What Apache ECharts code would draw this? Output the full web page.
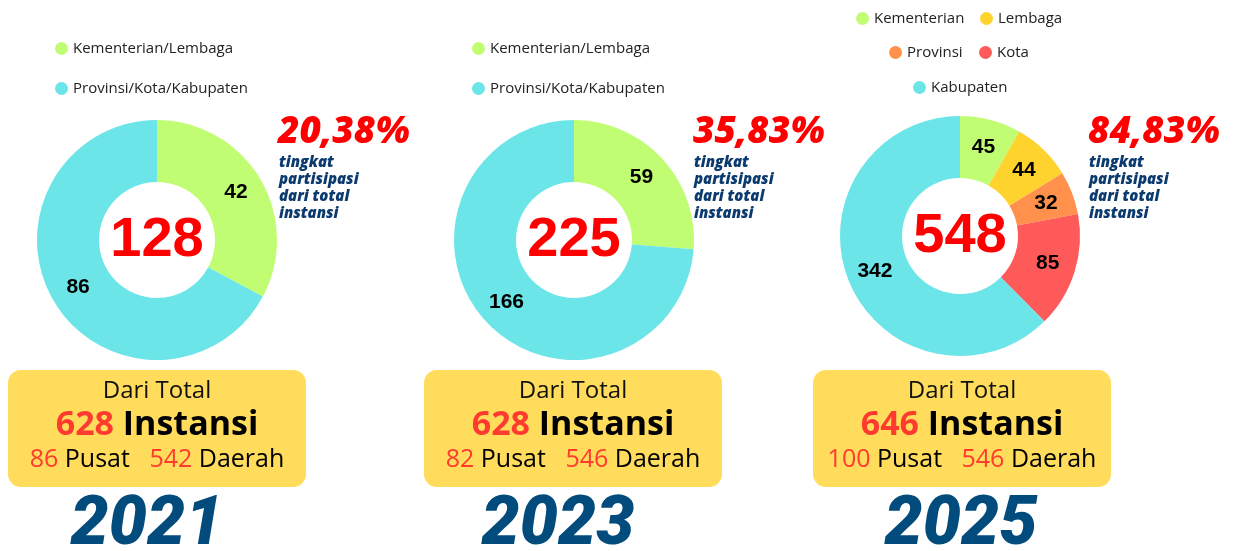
<!DOCTYPE html>
<html>
<head>
<meta charset="utf-8">
<script src="https://cdn.jsdelivr.net/npm/echarts@6/dist/echarts.min.js"></script>
<style>
  html, body { margin: 0; background: #fff; }
  #chart { width: 1234px; height: 551px; }
</style>
</head>
<body>
<div id="chart"></div>
<script>
// data
const years = ["2021", "2023", "2025"];
const groupNames = ["Kementerian/Lembaga", "Provinsi/Kota/Kabupaten"];
const detailNames = ["Kementerian", "Lembaga", "Provinsi", "Kota", "Kabupaten"];
const values2021 = [42, 86];
const values2023 = [59, 166];
const values2025 = [45, 44, 32, 85, 342];
const totalInstansi = [628, 628, 646];
const pusat = [86, 82, 100];
const daerah = [542, 546, 546];

// layout + styles
const GREEN = "#C1FD72";
const CYAN = "#6CE5E8";
const YELLOW = "#FFD32D";
const ORANGE = "#FF914D";
const CORAL = "#FF5A5A";
const NAVY = "#0B3A6E";
const YEAR_BLUE = "#024B7D";
const BOX_FILL = "#FFDC5C";
const BOX_RED = "#FF3B30";

const centersX = [157, 574, 960];
const centersY = [240, 240, 236];
const boxX = [8, 424, 813];
const pctX = [278, 693, 1088];
const yearX = [147, 558, 961];

const seriesData = [
  values2021.map((v, i) => ({ name: groupNames[i], value: v, itemStyle: { color: [GREEN, CYAN][i] } })),
  values2023.map((v, i) => ({ name: groupNames[i], value: v, itemStyle: { color: [GREEN, CYAN][i] } })),
  values2025.map((v, i) => ({
    name: detailNames[i],
    value: v,
    itemStyle: { color: [GREEN, YELLOW, ORANGE, CORAL, CYAN][i] },
  })),
];

const sums = seriesData.map((d) => d.reduce((a, x) => a + x.value, 0));

const legendText = { color: "#222", fontFamily: "Open Sans", fontSize: 15 };
const legendBase = {
  icon: "circle",
  itemWidth: 13,
  itemHeight: 13,
  padding: 0,
  orient: "vertical",
  itemGap: 25,
  textStyle: legendText,
  selectedMode: false,
};

const legends = [
  { ...legendBase, left: 55, top: 41, data: groupNames },
  { ...legendBase, left: 472, top: 41, data: groupNames },
  { ...legendBase, left: 856, top: 11, data: ["Kementerian"] },
  { ...legendBase, left: 980, top: 11, data: ["Lembaga"] },
  { ...legendBase, left: 889, top: 45, data: ["Provinsi"] },
  { ...legendBase, left: 979, top: 45, data: ["Kota"] },
  { ...legendBase, left: 913, top: 80, data: ["Kabupaten"] },
];

const series = seriesData.map((data, i) => ({
  type: "pie",
  center: [centersX[i], centersY[i]],
  radius: [58, 120],
  startAngle: 90,
  clockwise: true,
  avoidLabelOverlap: false,
  silent: true,
  itemStyle: { borderWidth: 0 },
  label: {
    show: true,
    position: "inside",
    formatter: "{c}",
    color: "#000",
    fontFamily: "Liberation Sans",
    fontWeight: "bold",
    fontSize: 21,
  },
  labelLine: { show: false },
  data,
}));

const graphics = [];
years.forEach((year, i) => {
  // center total
  graphics.push({
    type: "text",
    x: centersX[i],
    y: centersY[i] + 1,
    style: {
      text: String(sums[i]),
      fill: "#FF0000",
      fontFamily: "Liberation Sans",
      fontWeight: "bold",
      fontSize: 56,
      align: "center",
      verticalAlign: "middle",
    },
  });
  // participation percentage
  const pct = ((sums[i] / totalInstansi[i]) * 100).toFixed(2).replace(".", ",") + "%";
  graphics.push({
    type: "text",
    x: pctX[i],
    y: 132,
    style: {
      text: pct,
      fill: "#FF0000",
      fontFamily: "Open Sans",
      fontWeight: 800,
      fontStyle: "italic",
      fontSize: 37,
      align: "left",
      verticalAlign: "middle",
    },
  });
  graphics.push({
    type: "text",
    x: pctX[i] + 1,
    y: 154,
    style: {
      text: "tingkat\npartisipasi\ndari total\ninstansi",
      fill: NAVY,
      fontFamily: "Open Sans",
      fontWeight: 800,
      fontStyle: "italic",
      fontSize: 15,
      lineHeight: 17,
      align: "left",
      verticalAlign: "top",
    },
  });
  // yellow box
  const bx = boxX[i];
  const cx = bx + 149;
  graphics.push({
    type: "rect",
    shape: { x: bx, y: 370, width: 298, height: 117, r: 13 },
    style: { fill: BOX_FILL },
  });
  graphics.push({
    type: "text",
    x: cx,
    y: 391,
    style: {
      text: "Dari Total",
      fill: "#111",
      fontFamily: "Open Sans",
      fontSize: 24,
      align: "center",
      verticalAlign: "middle",
    },
  });
  graphics.push({
    type: "text",
    x: cx,
    y: 425,
    style: {
      text: `{r|${totalInstansi[i]}}{k| Instansi}`,
      align: "center",
      verticalAlign: "middle",
      rich: {
        r: { fill: BOX_RED, fontFamily: "Open Sans", fontWeight: "bold", fontSize: 34 },
        k: { fill: "#000", fontFamily: "Open Sans", fontWeight: "bold", fontSize: 34 },
      },
    },
  });
  graphics.push({
    type: "text",
    x: cx,
    y: 460,
    style: {
      text: `{r|${pusat[i]}}{k| Pusat   }{r|${daerah[i]}}{k| Daerah}`,
      align: "center",
      verticalAlign: "middle",
      rich: {
        r: { fill: BOX_RED, fontFamily: "Open Sans", fontSize: 25 },
        k: { fill: "#000", fontFamily: "Open Sans", fontSize: 25 },
      },
    },
  });
  // year
  graphics.push({
    type: "text",
    x: yearX[i],
    y: 527,
    style: {
      text: year,
      fill: YEAR_BLUE,
      fontFamily: "Roboto",
      fontWeight: 900,
      fontStyle: "italic",
      fontSize: 68,
      align: "center",
      verticalAlign: "middle",
    },
  });
});

const chart = echarts.init(document.getElementById("chart"));
chart.setOption({
  animation: false,
  backgroundColor: "#fff",
  legend: legends,
  series,
  graphic: graphics,
});
</script>
</body>
</html>
